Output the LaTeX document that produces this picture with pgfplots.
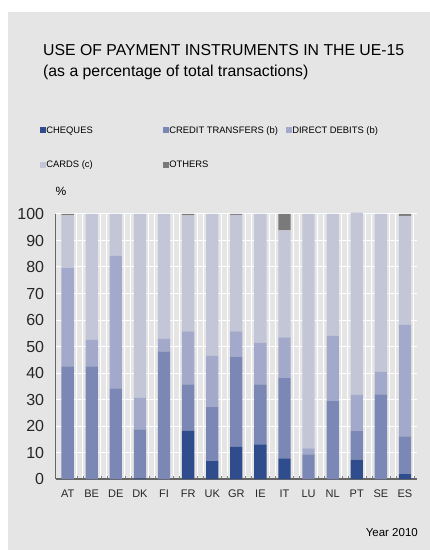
\documentclass[border=0pt]{standalone}
\usepackage{pgfplots}
\pgfplotsset{compat=1.18}
\usepackage{pgfplotstable}
\usepackage{fontspec}
\setmainfont{Liberation Sans}
\definecolor{panel}{HTML}{E5E5E5}
\definecolor{chq}{HTML}{2F4C8C}
\definecolor{ctr}{HTML}{7B87B4}
\definecolor{ddb}{HTML}{A3A9CB}
\definecolor{crd}{HTML}{C3C6D6}
\definecolor{oth}{HTML}{7A7A7A}
\definecolor{axl}{HTML}{666666}
\newcommand{\lent}[1]{\makebox[116pt][l]{\vphantom{(b)}#1}}
\pgfplotstableread{
x cat chq ct dd cards oth
0 AT 0 42.5 37.1 19.9 0.5
1 BE 0 42.5 10.1 47.4 0
2 DE 0 34.2 50.0 15.8 0
3 DK 0.2 18.5 12.0 69.3 0
4 FI 0 48.0 4.9 47.1 0
5 FR 18.2 17.5 20.0 43.8 0.5
6 UK 6.7 20.4 19.5 53.4 0
7 GR 12.1 34.1 9.5 44.0 0.3
8 IE 13.1 22.6 15.7 48.6 0
9 IT 7.8 30.5 15.1 40.4 6.2
10 LU 0 9.3 2.3 88.4 0
11 NL 0 29.4 24.6 46.0 0
12 PT 7.3 10.8 13.7 68.7 0
13 SE 0 31.9 8.6 59.5 0
14 ES 1.8 14.3 42.2 41.0 0.7
}\datatable
\begin{document}
\begin{tikzpicture}[x=1pt,y=1pt]
\path[use as bounding box] (0,0) rectangle (430,550);
\fill[white] (0,0) rectangle (430,550);
\fill[panel] (8,0) rectangle (430,538);
\node[anchor=base west,inner sep=0pt,font=\fontsize{15.8}{18}\selectfont] at (43,494) {USE OF PAYMENT INSTRUMENTS IN THE UE-15};
\node[anchor=base west,inner sep=0pt,font=\fontsize{15.8}{18}\selectfont] at (43,473.5) {(as a percentage of total transactions)};
\node[inner sep=0pt,font=\fontsize{12}{14}\selectfont] at (61,359) {\%};
\node[anchor=base east,inner sep=0pt,font=\fontsize{11.5}{14}\selectfont] at (418,13) {Year 2010};
\begin{axis}[
  at={(55.6pt,71pt)}, anchor=south west,
  scale only axis, width=361.4pt, height=265pt,
  xmin=-0.5, xmax=14.5, ymin=0, ymax=100,
  clip=false,
  ybar stacked, bar width=12.3pt,
  axis x line*=bottom, axis y line*=left,
  axis line style={axl, line width=1.2pt, -},
  xtick=data,
  xticklabels={AT,BE,DE,DK,FI,FR,UK,GR,IE,IT,LU,NL,PT,SE,ES},
  ytick={0,10,...,100},
  major tick length=0pt,
  /pgf/number format/assume math mode=true,
  x tick label style={font=\fontsize{11}{13}\selectfont, yshift=-7.5pt, text=black!85},
  y tick label style={font=\fontsize{16}{18}\selectfont, xshift=-8pt, text=black!85},
  ymajorgrids, major grid style={white, line width=1pt},
  xminorgrids, minor grid style={white, line width=1pt},
  minor xtick={-0.125,0.375,0.625,1.375,1.625,2.375,2.625,3.375,3.625,4.375,4.625,5.375,5.625,6.375,6.625,7.375,7.625,8.375,8.625,9.375,9.625,10.375,10.625,11.375,11.625,12.375,12.625,13.375,13.625,14.375},
  legend columns=3,
  legend style={at={(-0.0442,1.334)}, anchor=north west, draw=none, fill=none, inner sep=0pt,
    font=\fontsize{9.4}{10}\selectfont, row sep=25pt, nodes={inner sep=0.5pt}},
  legend cell align=left,
  legend image code/.code={\fill[#1] (0pt,-3pt) rectangle (6pt,3pt);},
]
\addplot[fill=chq, draw=none] table[x=x,y=chq]{\datatable};
\addlegendentry{\lent{CHEQUES}}
\addplot[fill=ctr, draw=none] table[x=x,y=ct]{\datatable};
\addlegendentry{\lent{CREDIT TRANSFERS (b)}}
\addplot[fill=ddb, draw=none] table[x=x,y=dd]{\datatable};
\addlegendentry{\lent{DIRECT DEBITS (b)}}
\addplot[fill=crd, draw=none] table[x=x,y=cards]{\datatable};
\addlegendentry{\lent{CARDS (c)}}
\addplot[fill=oth, draw=none] table[x=x,y=oth]{\datatable};
\addlegendentry{\lent{OTHERS}}
\end{axis}
\end{tikzpicture}
\end{document}
